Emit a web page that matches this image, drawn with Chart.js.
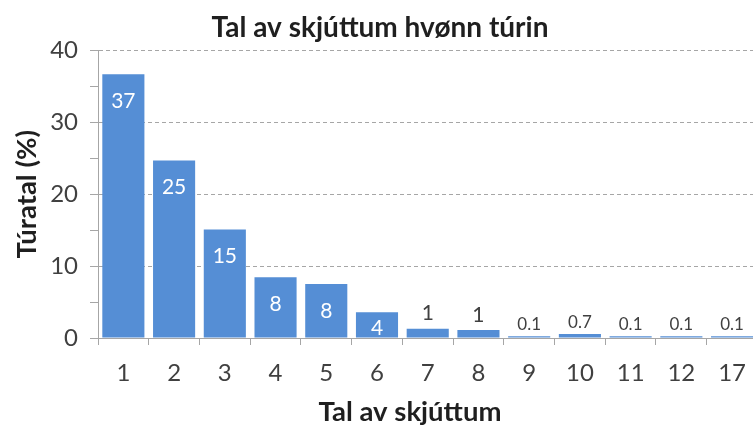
<!DOCTYPE html>
<html>
<head>
<meta charset="utf-8">
<script src="https://cdn.jsdelivr.net/npm/chart.js@4"></script>
<style>
  html, body { margin: 0; padding: 0; background: #ffffff; overflow: hidden; }
  #wrap { width: 753px; height: 426px; overflow: hidden; position: relative; }
  canvas { display: block; }
</style>
</head>
<body>
<div id="wrap"><canvas id="c" width="760" height="426"></canvas></div>
<script>
// ---- data ----
const categories = ['1', '2', '3', '4', '5', '6', '7', '8', '9', '10', '11', '12', '17'];
const shareValues = [36.7, 24.7, 15.1, 8.45, 7.5, 3.6, 1.3, 1.1, 0.25, 0.55, 0.25, 0.25, 0.25];
const valueLabels = ['37', '25', '15', '8', '8', '4', '1', '1', '0.1', '0.7', '0.1', '0.1', '0.1'];
const yTickValues = [0, 10, 20, 30, 40];

const chartTitle = 'Tal av skjúttum hvønn túrin';
const xTitle = 'Tal av skjúttum';
const yTitle = 'Túratal (%)';

const FONT = 'Lato, "Open Sans", sans-serif';
const BAR = '#558ED5';
const GRID = '#A6A6A6';
const TEXT = '#1F1F1F';
const TICK = '#404040';

const labelPlugin = {
  id: 'barLabels',
  afterDatasetsDraw(chart) {
    const ctx = chart.ctx;
    const meta = chart.getDatasetMeta(0);
    ctx.save();
    ctx.textAlign = 'center';
    ctx.textBaseline = 'middle';
    meta.data.forEach((bar, i) => {
      const txt = valueLabels[i];
      const h = bar.base - bar.y;
      const small = txt.indexOf('.') >= 0;
      if (h > 20) {
        ctx.fillStyle = '#ffffff';
        ctx.font = '21px ' + FONT;
        const cy = Math.min(bar.y + 27, bar.base - 9);
        ctx.fillText(txt, bar.x, cy);
      } else {
        ctx.fillStyle = TICK;
        ctx.font = (small ? '17px ' : '21px ') + FONT;
        ctx.fillText(txt, bar.x, bar.y - (small ? 12 : 15));
      }
    });
    ctx.restore();
  }
};

const xTitlePlugin = {
  id: 'xTitle',
  afterDraw(chart) {
    const ctx = chart.ctx;
    ctx.save();
    ctx.fillStyle = TEXT;
    ctx.font = 'bold 27.5px ' + FONT;
    ctx.textAlign = 'center';
    ctx.textBaseline = 'middle';
    ctx.fillText(xTitle, 410, 412);
    ctx.restore();
  }
};

new Chart(document.getElementById('c'), {
  type: 'bar',
  data: {
    labels: categories,
    datasets: [{
      data: shareValues,
      backgroundColor: BAR,
      borderWidth: 0,
      barPercentage: 0.83,
      categoryPercentage: 1.0
    }]
  },
  options: {
    responsive: false,
    animation: false,
    devicePixelRatio: 1,
    layout: { padding: { left: 0, right: 0, top: 0, bottom: 0 } },
    plugins: {
      legend: { display: false },
      tooltip: { enabled: false },
      title: {
        display: true,
        text: chartTitle,
        color: TEXT,
        font: { family: FONT, size: 28, weight: 'bold' },
        padding: { top: 11, bottom: 6 }
      }
    },
    scales: {
      x: {
        afterFit(scale) { scale.height = 88; },
        grid: {
          offset: true,
          drawOnChartArea: false,
          color: GRID,
          tickColor: GRID,
          tickLength: 7
        },
        border: { color: GRID, width: 1 },
        ticks: {
          color: TICK,
          font: { family: FONT, size: 24 },
          padding: 14,
          maxRotation: 0,
          autoSkip: false
        }
      },
      y: {
        min: 0,
        max: 40,
        afterFit(scale) { scale.width = 98; },
        afterBuildTicks(scale) {
          const t = [];
          for (let v = 0; v <= 40; v += 5) t.push({ value: v });
          scale.ticks = t;
        },
        grid: {
          color: (c) => (c.tick && yTickValues.includes(c.tick.value) && c.tick.value !== 0) ? GRID : 'rgba(0,0,0,0)',
          tickColor: GRID,
          tickLength: 8
        },
        border: { color: GRID, width: 1, dash: [4, 3] },
        ticks: {
          color: TICK,
          font: { family: FONT, size: 24 },
          padding: 12,
          autoSkip: false,
          callback: (v) => yTickValues.includes(v) ? String(v) : ''
        },
        title: {
          display: true,
          text: yTitle,
          color: TEXT,
          font: { family: FONT, size: 27.5, weight: 'bold' },
          padding: { top: 11, bottom: 0 }
        }
      }
    }
  },
  plugins: [labelPlugin, xTitlePlugin]
});
</script>
</body>
</html>
